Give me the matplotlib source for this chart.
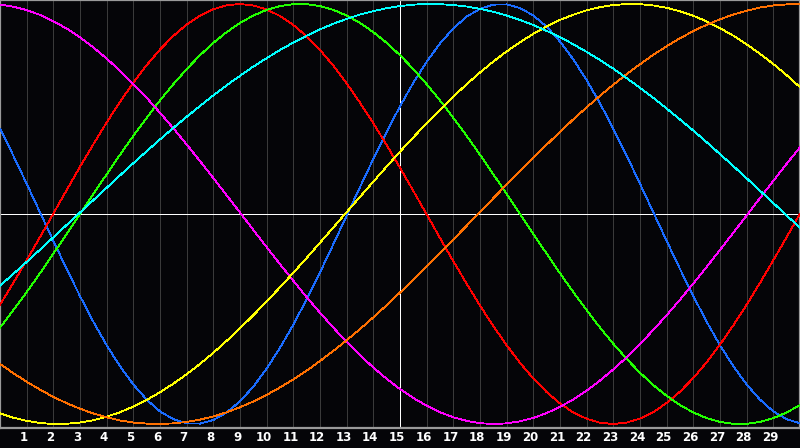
#!/usr/bin/env python3
import matplotlib
matplotlib.use("Agg")
from matplotlib import pyplot as plt
from matplotlib import transforms

# samples every half day, 0 .. 30 (-1 .. 1)
days = [i * 0.5 for i in range(61)]
day_labels = [str(d) for d in range(1, 30)]
today = 15

physical = [0.406, 0.278, 0.144, 0.008, -0.128, -0.262, -0.391, -0.513, -0.625, -0.725,
            -0.812, -0.884, -0.940, -0.977, -0.997, -0.998, -0.981, -0.945, -0.892, -0.822,
            -0.736, -0.637, -0.527, -0.406, -0.278, -0.144, -0.008, 0.128, 0.262, 0.391,
            0.513, 0.625, 0.725, 0.812, 0.884, 0.940, 0.977, 0.997, 0.998, 0.981,
            0.945, 0.892, 0.821, 0.736, 0.637, 0.527, 0.406, 0.278, 0.144, 0.008,
            -0.128, -0.262, -0.391, -0.513, -0.625, -0.725, -0.812, -0.884, -0.940, -0.977,
            -0.997]
emotional = [-0.432, -0.328, -0.220, -0.110, 0.002, 0.114, 0.225, 0.332, 0.436, 0.534,
             0.625, 0.709, 0.783, 0.848, 0.902, 0.945, 0.975, 0.994, 1.000, 0.993,
             0.974, 0.943, 0.900, 0.846, 0.781, 0.706, 0.622, 0.530, 0.432, 0.328,
             0.220, 0.110, -0.002, -0.114, -0.225, -0.332, -0.436, -0.534, -0.625, -0.709,
             -0.783, -0.848, -0.902, -0.945, -0.975, -0.994, -1.000, -0.993, -0.974, -0.943,
             -0.900, -0.846, -0.781, -0.706, -0.622, -0.530, -0.432, -0.328, -0.220, -0.110,
             0.002]
intellectual = [-0.541, -0.458, -0.372, -0.282, -0.189, -0.095, 0.000, 0.095, 0.189, 0.282,
                0.372, 0.458, 0.541, 0.618, 0.690, 0.756, 0.815, 0.866, 0.910, 0.945,
                0.972, 0.990, 0.999, 0.999, 0.990, 0.972, 0.945, 0.910, 0.866, 0.815,
                0.756, 0.690, 0.618, 0.541, 0.458, 0.372, 0.282, 0.189, 0.095, 0.000,
                -0.095, -0.189, -0.282, -0.372, -0.458, -0.541, -0.618, -0.690, -0.756, -0.815,
                -0.866, -0.910, -0.945, -0.972, -0.990, -0.999, -0.999, -0.990, -0.972, -0.945,
                -0.910]
intuitive = [0.997, 0.987, 0.971, 0.948, 0.918, 0.883, 0.841, 0.793, 0.740, 0.682,
             0.619, 0.553, 0.482, 0.408, 0.331, 0.252, 0.171, 0.089, 0.007, -0.076,
             -0.158, -0.239, -0.318, -0.396, -0.470, -0.541, -0.609, -0.673, -0.731, -0.785,
             -0.834, -0.876, -0.913, -0.944, -0.968, -0.985, -0.996, -1.000, -0.997, -0.987,
             -0.971, -0.948, -0.918, -0.883, -0.841, -0.793, -0.740, -0.682, -0.619, -0.552,
             -0.482, -0.408, -0.331, -0.252, -0.171, -0.089, -0.007, 0.076, 0.158, 0.239,
             0.318]
aesthetic = [-0.949, -0.970, -0.985, -0.995, -1.000, -0.999, -0.993, -0.982, -0.965, -0.944,
             -0.917, -0.885, -0.849, -0.808, -0.763, -0.714, -0.661, -0.604, -0.544, -0.482,
             -0.416, -0.349, -0.280, -0.209, -0.137, -0.064, 0.009, 0.082, 0.154, 0.226,
             0.297, 0.365, 0.432, 0.497, 0.559, 0.618, 0.674, 0.726, 0.774, 0.818,
             0.858, 0.893, 0.924, 0.949, 0.970, 0.985, 0.995, 1.000, 0.999, 0.993,
             0.982, 0.965, 0.944, 0.917, 0.885, 0.849, 0.808, 0.763, 0.714, 0.661,
             0.604]
awareness = [-0.714, -0.758, -0.799, -0.836, -0.871, -0.901, -0.927, -0.950, -0.968, -0.983,
             -0.993, -0.998, -1.000, -0.997, -0.990, -0.979, -0.964, -0.944, -0.920, -0.893,
             -0.861, -0.826, -0.788, -0.746, -0.700, -0.652, -0.601, -0.548, -0.492, -0.434,
             -0.374, -0.313, -0.250, -0.186, -0.121, -0.056, 0.009, 0.075, 0.140, 0.204,
             0.268, 0.330, 0.391, 0.451, 0.508, 0.563, 0.616, 0.666, 0.713, 0.758,
             0.799, 0.837, 0.871, 0.901, 0.927, 0.950, 0.968, 0.983, 0.993, 0.998,
             1.000]
spiritual = [-0.342, -0.285, -0.228, -0.170, -0.111, -0.052, 0.007, 0.066, 0.125, 0.184,
             0.242, 0.299, 0.355, 0.410, 0.463, 0.514, 0.565, 0.613, 0.658, 0.702,
             0.742, 0.781, 0.816, 0.849, 0.879, 0.906, 0.929, 0.950, 0.966, 0.980,
             0.990, 0.997, 1.000, 0.999, 0.995, 0.988, 0.977, 0.963, 0.945, 0.924,
             0.900, 0.872, 0.842, 0.808, 0.772, 0.733, 0.692, 0.647, 0.601, 0.553,
             0.502, 0.450, 0.397, 0.342, 0.285, 0.228, 0.170, 0.111, 0.052, -0.007,
             -0.066]

series = [
    (physical, "#1a6cff"),
    (emotional, "#ff0000"),
    (intellectual, "#22ff00"),
    (intuitive, "#ff00ff"),
    (aesthetic, "#ffff00"),
    (awareness, "#ff7000"),
    (spiritual, "#00ffff"),
]


def main():
    fig = plt.figure(figsize=(8, 4.48), dpi=100, facecolor="#050508")
    ax = fig.add_axes([0, 20 / 448, 1, 428 / 448], facecolor="#050508")
    ax.set_xlim(0, 30)
    ax.set_ylim(-1.019, 1.019)

    # day grid
    ax.vlines(range(1, 30), -1.1, 1.1, color="#3a3a3a", lw=0.72, zorder=1, antialiased=False)
    ax.axhline(0, color="white", lw=0.72, zorder=2, antialiased=False)
    ax.axvline(today, color="white", lw=0.72, zorder=2, antialiased=False)

    for values, color in series:
        ax.plot(days, values, color=color, lw=0.6, zorder=3, antialiased=False)

    for side in ax.spines.values():
        side.set_color("#9a9a9a")
        side.set_linewidth(1.6)

    ax.set_yticks([])
    ax.set_xticks(range(1, 30))
    ax.set_xticklabels(day_labels, color="white", fontsize=8.5, fontweight="bold")
    ax.tick_params(axis="x", length=0, pad=2.5)
    shift = transforms.ScaledTranslation(-3 / 100, 0, fig.dpi_scale_trans)
    for lbl in ax.get_xticklabels():
        lbl.set_transform(lbl.get_transform() + shift)

    fig.savefig("out.png", dpi=100, facecolor=fig.get_facecolor())


if __name__ == "__main__":
    main()
